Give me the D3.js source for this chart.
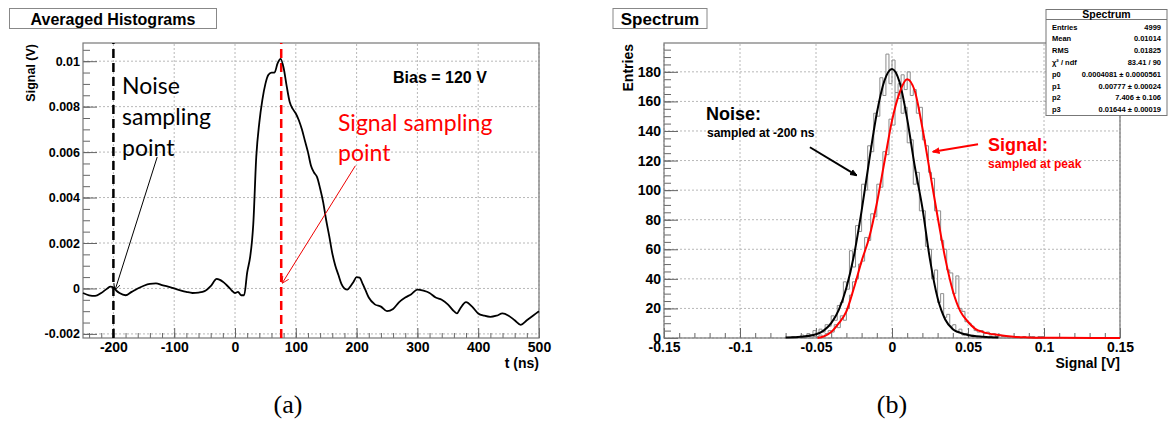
<!DOCTYPE html>
<html>
<head>
<meta charset="utf-8">
<script src="https://cdn.jsdelivr.net/npm/d3@7"></script>
<style>
  body { margin: 0; background: #fff; }
  svg text { font-family: "Liberation Sans", Arial, sans-serif; }
</style>
</head>
<body>
<svg id="fig" width="1168" height="426"></svg>
<script>
// ---- panel (a): averaged waveform ----
var tNs = [-250,-240,-230,-220,-210,-205,-200,-195,-190,-180,-170,-160,-150,-140,-130,-120,-110,-100,-90,-80,-70,-60,-50,-40,-30,-20,-10,-5,0,5,10,15,20,25,28,30,35,40,45,50,55,60,65,70,75,80,85,90,95,100,105,110,115,120,125,130,135,140,145,150,155,160,165,170,175,180,185,190,195,200,205,210,215,220,230,240,250,260,270,280,290,300,310,320,330,340,350,360,365,370,380,390,400,410,420,430,440,450,460,470,480,490,500];
var signalV = [-0.0002,-0.0003,-0.00033,-0.0002,0,0.00008,0.00005,-0.0001,-0.0002,-0.0003,-0.00015,0,0.00012,0.0002,0.00022,0.00015,0.00008,0,-0.00008,-0.00015,-0.0002,-0.00018,-0.00012,0.0001,0.00042,0.0003,0.00005,-0.0001,-0.0002,-0.00015,-0.0003,-0.0003,0.0007,0.0014,0.0021,0.0028,0.0058,0.0073,0.0083,0.009,0.0094,0.0095,0.0095,0.0099,0.0101,0.0097,0.0089,0.0082,0.0079,0.0077,0.0074,0.007,0.0065,0.006,0.0054,0.0051,0.0049,0.0044,0.0038,0.003,0.0023,0.00155,0.001,0.0006,0.0002,0,-0.00005,0.0001,0.0003,0.0005,0.00048,0.0002,-0.0001,-0.0004,-0.0007,-0.0008,-0.001,-0.0009,-0.0006,-0.0004,-0.00025,-0.00005,-0.0001,-0.0002,-0.0004,-0.0005,-0.0007,-0.001,-0.0011,-0.0009,-0.0006,-0.0008,-0.0011,-0.0012,-0.00125,-0.0012,-0.0011,-0.0012,-0.0014,-0.0016,-0.0014,-0.0012,-0.001];
var aTicksX = [-200,-100,0,100,200,300,400,500];
var aTicksY = [-0.002,0,0.002,0.004,0.006,0.008,0.01];
var aTickLabelsY = ["-0.002","0","0.002","0.004","0.006","0.008","0.01"];
var noisePointT = -200, signalPointT = 76;

// ---- panel (b): spectrum ----
var binStart = -0.07, binWidth = 0.002;
var noiseCounts = [0,0,1,0,1,2,1,3,2,5, 3,6,4,9,8,15,12,22,24,38, 33,59,48,76,72,104,100,130,126,152,
  150,176,164,192,172,188,166,172,152,156, 132,134,104,112,86,86,62,60,40,46, 24,30,14,16,8,9,4,6,2,3,
  2,1,1,0,1,0,0,1,0,0, 0,0,0,0,0,0,0,0,0,0, 0,0,0,0,0];
var signalCounts = [0,0,0,0,1,0,0,1,0,1, 1,2,1,3,5,4,9,7,15,12, 20,29,38,40,50,52,68,66,84,82,
  104,102,126,124,148,144,166,162,178,168, 180,164,168,152,156,134,130,112,108,86, 86,66,60,46,44,30,42,20,18,11,
  10,8,5,4,5,3,4,2,3,1, 2,1,1,0,1,0,1,0,1,0, 1,1,0,1,1];
var noiseFitX = [-0.07,-0.06,-0.05,-0.045,-0.04,-0.035,-0.03,-0.025,-0.02,-0.015,-0.01,-0.005,0,0.005,0.01,0.015,0.02,0.025,0.03,0.035,0.04,0.045,0.05,0.06,0.07];
var noiseFitY = [0.3,0.8,2.5,5,10,19,34,56,86,120,152,174,182,173,148,116,88,53,27,12.5,6,3.5,2,0.8,0.3];
var signalFitX = [-0.049,-0.045,-0.04,-0.035,-0.03,-0.025,-0.02,-0.015,-0.01,-0.005,0,0.005,0.01,0.015,0.02,0.025,0.03,0.035,0.04,0.045,0.05,0.055,0.06,0.07,0.08,0.09,0.1,0.11,0.15];
var signalFitY = [0,1,4,10,18,34,52,68,91,119,147,166,175,167,142,112,82,54,32,18,11,6,4,2,0.8,0.4,0.2,0.1,0];
var bTicksX = [-0.15,-0.1,-0.05,0,0.05,0.1,0.15];
var bTickLabelsX = ["-0.15","-0.1","-0.05","0","0.05","0.1","0.15"];
var bTicksY = [0,20,40,60,80,100,120,140,160,180];
var statNames = ["Entries","Mean","RMS","\u03c7\u00b2 / ndf","p0","p1","p2","p3"];
var statValues = ["4999","0.01014","0.01825","83.41 / 90","0.0004081 \u00b1 0.0000561","0.00777 \u00b1 0.00024","7.406 \u00b1 0.106","0.01644 \u00b1 0.00019"];

var svg = d3.select("#fig");

// ROOT-like frame: grid, inward ticks, bold labels
function drawFrame(x, y, o) {
    var g = svg.append("g");
    var x0 = x.range()[0], x1 = x.range()[1], y0 = y.range()[0], y1 = y.range()[1];

    // grid
    g.selectAll(".gx").data(o.ticksX).enter().append("line")
        .attr("x1", function (d) { return x(d); }).attr("x2", function (d) { return x(d); })
        .attr("y1", y0).attr("y2", y1)
        .attr("stroke", "#b8b8b8").attr("stroke-dasharray", "2,2");
    g.selectAll(".gy").data(o.ticksY).enter().append("line")
        .attr("x1", x0).attr("x2", x1)
        .attr("y1", function (d) { return y(d); }).attr("y2", function (d) { return y(d); })
        .attr("stroke", "#b8b8b8").attr("stroke-dasharray", "2,2");

    // minor ticks
    g.append("g").attr("transform", "translate(0," + y0 + ")")
        .call(d3.axisBottom(x).tickValues(o.minorX).tickSize(-5).tickFormat(""))
        .call(function (a) { a.select(".domain").remove(); a.selectAll("line").attr("stroke", "#666"); });
    g.append("g").attr("transform", "translate(" + x0 + ",0)")
        .call(d3.axisLeft(y).tickValues(o.minorY).tickSize(-7).tickFormat(""))
        .call(function (a) { a.select(".domain").remove(); a.selectAll("line").attr("stroke", "#666"); });

    // major ticks + labels
    g.append("g").attr("transform", "translate(0," + y0 + ")")
        .call(d3.axisBottom(x).tickValues(o.ticksX).tickSize(-10).tickPadding(4)
            .tickFormat(function (d, i) { return o.labelsX[i]; }))
        .call(function (a) {
            a.select(".domain").remove();
            a.selectAll("line").attr("stroke", "#666");
            a.selectAll("text").attr("font-size", o.fs).attr("font-weight", "bold")
                .attr("fill", "#000").style("font-family", "Liberation Sans, Arial, sans-serif");
        });
    g.append("g").attr("transform", "translate(" + x0 + ",0)")
        .call(d3.axisLeft(y).tickValues(o.ticksY).tickSize(-14).tickPadding(3)
            .tickFormat(function (d, i) { return o.labelsY[i]; }))
        .call(function (a) {
            a.select(".domain").remove();
            a.selectAll("line").attr("stroke", "#666");
            a.selectAll("text").attr("font-size", o.fsY).attr("font-weight", "bold")
                .attr("fill", "#000").style("font-family", "Liberation Sans, Arial, sans-serif");
        });

    // frame
    g.append("rect").attr("x", x0).attr("y", y1).attr("width", x1 - x0).attr("height", y0 - y1)
        .attr("fill", "none").attr("stroke", "#777").attr("stroke-width", 1.2);

    // axis titles
    g.append("text").attr("x", x1).attr("y", 368).attr("text-anchor", "end")
        .attr("font-size", 14).attr("font-weight", "bold").text(o.titleX);
    g.append("text").attr("transform", "translate(" + o.yTitleX + "," + (y1 + 1) + ") rotate(-90)")
        .attr("text-anchor", "end").attr("font-size", o.yTitleFs).attr("font-weight", "bold").text(o.titleY);

    // title box
    svg.append("rect").attr("x", o.box[0]).attr("y", 8.5).attr("width", o.box[1]).attr("height", 20)
        .attr("fill", "#fff").attr("stroke", "#888");
    svg.append("text").attr("x", o.box[0] + o.box[1] / 2).attr("y", 24.5).attr("text-anchor", "middle")
        .attr("font-size", o.boxFs).attr("font-weight", "bold").text(o.title);
    return g;
}

function arrowHead(id, color, filled) {
    svg.append("defs").append("marker").attr("id", id)
        .attr("viewBox", "0 0 10 10").attr("refX", 9).attr("refY", 5)
        .attr("markerWidth", 7).attr("markerHeight", 7).attr("markerUnits", "userSpaceOnUse")
        .attr("orient", "auto")
        .append("path")
        .attr("d", filled ? "M0,1 L10,5 L0,9 Z" : "M0,0 L10,5 L0,10")
        .attr("fill", filled ? color : "none").attr("stroke", color).attr("stroke-width", 1.2);
}
arrowHead("ahBlack", "#000", false);
arrowHead("ahRed", "#e00", false);
arrowHead("ahBlackF", "#000", true);
arrowHead("ahRedF", "#f00", true);

// ================= panel (a) =================
var xA = d3.scaleLinear().domain([-250, 500]).range([83, 539]);
var yA = d3.scaleLinear().domain([-0.00218, 0.0108]).range([338, 43]);

drawFrame(xA, yA, {
    ticksX: aTicksX, labelsX: aTicksX.map(String), ticksY: aTicksY, labelsY: aTickLabelsY,
    minorX: d3.range(-240, 501, 20), minorY: d3.range(-0.002, 0.0108, 0.0005), fs: 14, fsY: 12.5,
    titleX: "t (ns)", titleY: "Signal (V)", yTitleX: 35, yTitleFs: 12.5,
    box: [9.5, 207], title: "Averaged Histograms", boxFs: 16
});

// sampling points
svg.append("line").attr("x1", xA(noisePointT)).attr("x2", xA(noisePointT))
    .attr("y1", yA.range()[0]).attr("y2", yA.range()[1])
    .attr("stroke", "#000").attr("stroke-width", 2.5).attr("stroke-dasharray", "9,5");
svg.append("line").attr("x1", xA(signalPointT)).attr("x2", xA(signalPointT))
    .attr("y1", yA.range()[0]).attr("y2", yA.range()[1])
    .attr("stroke", "#f00").attr("stroke-width", 2.5).attr("stroke-dasharray", "9,5");

var waveLine = d3.line()
    .x(function (d, i) { return xA(tNs[i]); })
    .y(function (d) { return yA(d); })
    .curve(d3.curveMonotoneX);
svg.append("path").datum(signalV).attr("d", waveLine)
    .attr("fill", "none").attr("stroke", "#000").attr("stroke-width", 1.8);

svg.append("text").attr("x", 393).attr("y", 83).attr("font-size", 16).attr("font-weight", "bold").text("Bias = 120 V");

["Noise", "sampling", "point"].forEach(function (s, i) {
    svg.append("text").attr("x", 122).attr("y", 94 + i * 31).attr("font-size", 23)
        .style("font-family", "Lato, sans-serif").attr("fill", "#000").text(s);
});
["Signal sampling", "point"].forEach(function (s, i) {
    svg.append("text").attr("x", 338).attr("y", 131 + i * 30).attr("font-size", 23)
        .style("font-family", "Lato, sans-serif").attr("fill", "#f00").text(s);
});
svg.append("line").attr("x1", xA(-128)).attr("y1", yA(0.00578)).attr("x2", xA(-197)).attr("y2", yA(-0.00005))
    .attr("stroke", "#000").attr("stroke-width", 1).attr("marker-end", "url(#ahBlack)");
svg.append("line").attr("x1", xA(198)).attr("y1", yA(0.0054)).attr("x2", xA(78)).attr("y2", yA(0.00025))
    .attr("stroke", "#e00").attr("stroke-width", 1).attr("marker-end", "url(#ahRed)");

// ================= panel (b) =================
var xB = d3.scaleLinear().domain([-0.15, 0.15]).range([664, 1120]);
var yB = d3.scaleLinear().domain([0, 199.5]).range([338, 43]);

drawFrame(xB, yB, {
    ticksX: bTicksX, labelsX: bTickLabelsX, ticksY: bTicksY, labelsY: bTicksY.map(String),
    minorX: d3.range(-0.15, 0.1501, 0.01), minorY: d3.range(0, 199, 5), fs: 14, fsY: 14,
    titleX: "Signal [V]", titleY: "Entries", yTitleX: 633, yTitleFs: 14,
    box: [613, 94], title: "Spectrum", boxFs: 17
});

function histPoints(counts) {
    var pts = [[binStart, 0]];
    counts.forEach(function (c, i) {
        pts.push([binStart + i * binWidth, c]);
        pts.push([binStart + (i + 1) * binWidth, c]);
    });
    pts.push([binStart + counts.length * binWidth, 0]);
    return pts;
}
var stepLine = d3.line().x(function (d) { return xB(d[0]); }).y(function (d) { return yB(d[1]); });
[noiseCounts, signalCounts].forEach(function (c) {
    svg.append("path").datum(histPoints(c)).attr("d", stepLine)
        .attr("fill", "none").attr("stroke", "#8c8c8c").attr("stroke-width", 1);
});

var fitLine = function (xs) {
    return d3.line().x(function (d, i) { return xB(xs[i]); }).y(function (d) { return yB(d); })
        .curve(d3.curveMonotoneX);
};
svg.append("path").datum(noiseFitY).attr("d", fitLine(noiseFitX))
    .attr("fill", "none").attr("stroke", "#000").attr("stroke-width", 2);
svg.append("path").datum(signalFitY).attr("d", fitLine(signalFitX))
    .attr("fill", "none").attr("stroke", "#f00").attr("stroke-width", 2);

// annotations
svg.append("text").attr("x", 706).attr("y", 120).attr("font-size", 18).attr("font-weight", "bold").text("Noise:");
svg.append("text").attr("x", 707).attr("y", 137).attr("font-size", 12).attr("font-weight", "bold").text("sampled at -200 ns");
svg.append("text").attr("x", 988).attr("y", 151).attr("font-size", 18).attr("font-weight", "bold").attr("fill", "#f00").text("Signal:");
svg.append("text").attr("x", 988).attr("y", 168).attr("font-size", 12).attr("font-weight", "bold").attr("fill", "#f00").text("sampled at peak");
svg.append("line").attr("x1", xB(-0.054)).attr("y1", yB(129)).attr("x2", xB(-0.0233)).attr("y2", yB(110))
    .attr("stroke", "#000").attr("stroke-width", 2).attr("marker-end", "url(#ahBlackF)");
svg.append("line").attr("x1", xB(0.0566)).attr("y1", yB(131)).attr("x2", xB(0.027)).attr("y2", yB(126))
    .attr("stroke", "#f00").attr("stroke-width", 2).attr("marker-end", "url(#ahRedF)");

// stats box
var st = svg.append("g");
st.append("rect").attr("x", 1046).attr("y", 9.5).attr("width", 121).attr("height", 106)
    .attr("fill", "#fff").attr("stroke", "#777");
st.append("line").attr("x1", 1046).attr("x2", 1167).attr("y1", 19.5).attr("y2", 19.5).attr("stroke", "#777");
st.append("text").attr("x", 1106.5).attr("y", 18).attr("text-anchor", "middle")
    .attr("font-size", 10.5).attr("font-weight", "bold").text("Spectrum");
statNames.forEach(function (n, i) {
    st.append("text").attr("x", 1052).attr("y", 29.5 + i * 11.8).attr("font-size", 7.5)
        .attr("font-weight", "bold").text(n);
    st.append("text").attr("x", 1161).attr("y", 29.5 + i * 11.8).attr("font-size", 7.5)
        .attr("font-weight", "bold").attr("text-anchor", "end").text(statValues[i]);
});

// sub-figure labels
svg.append("text").attr("x", 288).attr("y", 413).attr("text-anchor", "middle")
    .style("font-family", "Liberation Serif, serif").attr("font-size", 26).text("(a)");
svg.append("text").attr("x", 892).attr("y", 413).attr("text-anchor", "middle")
    .style("font-family", "Liberation Serif, serif").attr("font-size", 26).text("(b)");
</script>
</body>
</html>
